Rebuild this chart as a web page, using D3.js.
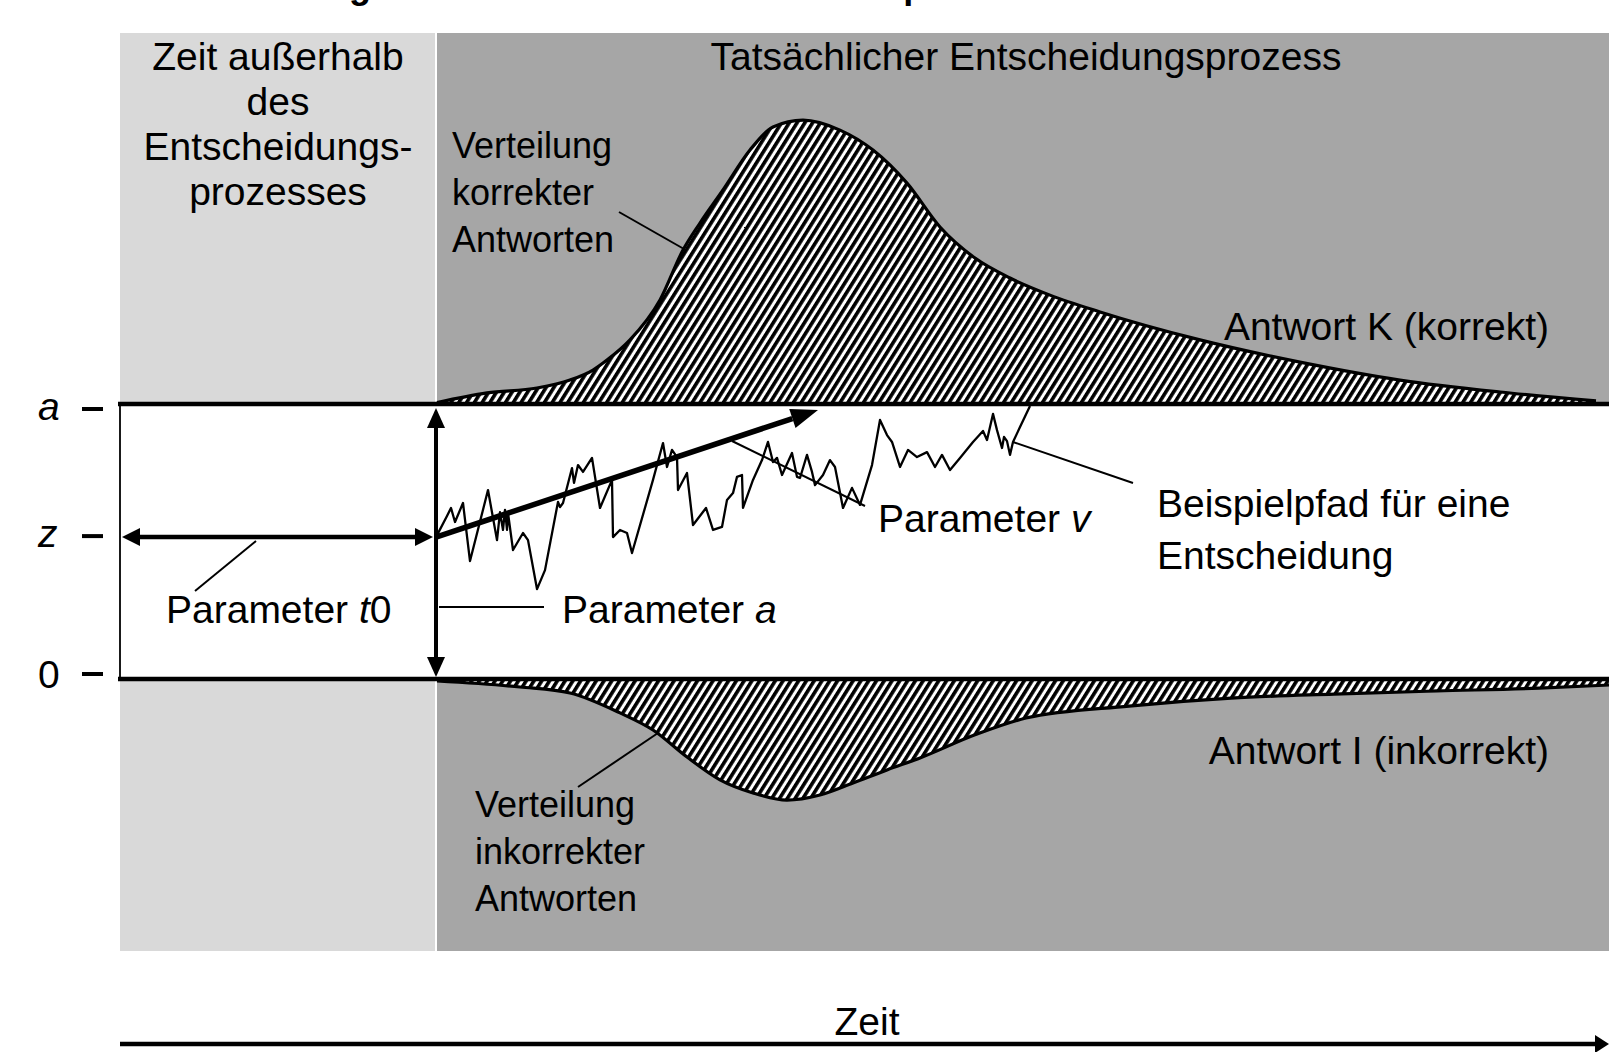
<!DOCTYPE html>
<html><head><meta charset="utf-8">
<script src="https://cdn.jsdelivr.net/npm/d3@7"></script>
<style>
html,body{margin:0;padding:0;background:#fff;overflow:hidden}
svg{display:block}
text{font-family:"Liberation Sans",Arial,sans-serif;fill:#000}
</style></head><body>
<svg id="chart" width="1609" height="1052"></svg>
<script>
// ---------------- data ----------------
const titleText = "Darstellung des Diffusionsmodells im Beispiel";
const timeDomain = [0, 1500];            // ms
const t0 = 316;                          // non-decision time (ms)
const boundaryNames = ["0", "z", "a"];
const boundaryValues = [0, 0.516, 1];    // evidence (relative to a)
const driftTimes = [316, 698];
const driftEvidence = [0.516, 0.978];

const correctTimes = [317,367,417,450,473,487,510,540,563,580,603,630,653,683,720,753,787,820,855,890,930,980,1080,1180,1280,1380,1476];
const correctDensity = [0.005,0.039,0.056,0.084,0.119,0.154,0.225,0.365,0.540,0.635,0.751,0.891,0.972,0.996,0.961,0.891,0.775,0.621,0.512,0.442,0.382,0.323,0.225,0.147,0.084,0.042,0.011];

const errorTimes = [317,400,450,500,533,567,600,633,667,700,733,767,800,855,906,1009,1111,1214,1317,1419,1489];
const errorDensity = [0.007,0.028,0.049,0.119,0.179,0.274,0.354,0.400,0.425,0.407,0.365,0.319,0.277,0.196,0.137,0.095,0.067,0.053,0.042,0.032,0.021];

const walkTimes = [316,327,331,335,343,350,368,377,380,383,385,387,388,393,403,408,417,425,438,440,443,452,454,458,463,472,480,492,493,500,507,512,533,543,547,552,557,558,567,573,586,593,602,607,613,617,622,623,633,642,648,653,657,662,672,677,680,687,692,695,703,710,715,723,732,740,752,760,767,772,780,788,797,807,815,822,830,840,853,863,867,873,877,882,884,887,890,893,900,910];
const walkEvidence = [0.516,0.593,0.622,0.571,0.640,0.429,0.687,0.505,0.607,0.542,0.615,0.542,0.604,0.469,0.531,0.505,0.327,0.396,0.644,0.625,0.640,0.767,0.713,0.778,0.753,0.804,0.622,0.724,0.516,0.542,0.531,0.458,0.724,0.858,0.771,0.833,0.807,0.687,0.749,0.560,0.622,0.542,0.553,0.651,0.676,0.735,0.742,0.622,0.724,0.796,0.862,0.789,0.804,0.742,0.822,0.735,0.731,0.815,0.753,0.705,0.742,0.796,0.771,0.622,0.695,0.633,0.778,0.942,0.887,0.862,0.771,0.833,0.807,0.825,0.771,0.815,0.760,0.804,0.862,0.902,0.869,0.964,0.905,0.840,0.880,0.865,0.815,0.862,0.916,0.993];

// ---------------- drawing ----------------
const W = 1609, H = 1052;
const svg = d3.select("#chart");
const x = d3.scaleLinear().domain(timeDomain).range([120, 1620]);
const y = d3.scaleLinear().domain([0, 1]).range([679, 404]);
const dens = d3.scaleLinear().domain([0, 1]).range([0, 285]);

const defs = svg.append("defs");
const pat = defs.append("pattern").attr("id", "hatch")
  .attr("patternUnits", "userSpaceOnUse").attr("width", 6.6).attr("height", 10)
  .attr("patternTransform", "rotate(32)");
pat.append("rect").attr("width", 6.6).attr("height", 10).attr("fill", "#fff");
pat.append("rect").attr("width", 3.6).attr("height", 10).attr("fill", "#000");

// title (cut off at top edge as in the original)
svg.append("text").attr("x", 173).attr("y", -2).attr("font-size", 36)
  .attr("font-weight", "bold").text(titleText);

const panelTop = 33, panelBottom = 951;
svg.append("rect").attr("x", x(0)).attr("y", panelTop)
  .attr("width", x(t0) - 1 - x(0)).attr("height", panelBottom - panelTop).attr("fill", "#d9d9d9");
svg.append("rect").attr("x", x(t0) + 1).attr("y", panelTop)
  .attr("width", W - x(t0)).attr("height", panelBottom - panelTop).attr("fill", "#a6a6a6");
svg.append("rect").attr("x", x(0)).attr("y", y(1))
  .attr("width", W - x(0)).attr("height", y(0) - y(1)).attr("fill", "#fff");

// densities
const corr = correctTimes.map((t, i) => [t, correctDensity[i]]);
const err = errorTimes.map((t, i) => [t, errorDensity[i]]);
const curve = d3.curveMonotoneX;
svg.append("path").datum(corr)
  .attr("d", d3.area().curve(curve).x(d => x(d[0])).y0(y(1)).y1(d => y(1) - dens(d[1])))
  .attr("fill", "url(#hatch)");
svg.append("path").datum(corr)
  .attr("d", d3.line().curve(curve).x(d => x(d[0])).y(d => y(1) - dens(d[1])))
  .attr("fill", "none").attr("stroke", "#000").attr("stroke-width", 3.2);
svg.append("path").datum(err)
  .attr("d", d3.area().curve(curve).x(d => x(d[0])).y0(y(0)).y1(d => y(0) + dens(d[1])))
  .attr("fill", "url(#hatch)");
svg.append("path").datum(err)
  .attr("d", d3.line().curve(curve).x(d => x(d[0])).y(d => y(0) + dens(d[1])))
  .attr("fill", "none").attr("stroke", "#000").attr("stroke-width", 3.2);

// boundaries
[1, 0].forEach(v => svg.append("line").attr("x1", x(0) - 2).attr("x2", W)
  .attr("y1", y(v)).attr("y2", y(v)).attr("stroke", "#000").attr("stroke-width", 4.6));
svg.append("line").attr("x1", x(0)).attr("x2", x(0)).attr("y1", y(1)).attr("y2", y(0))
  .attr("stroke", "#000").attr("stroke-width", 1.8);

// boundary labels with dash ticks
const tickNudge = [-5, -1, 5];
boundaryNames.forEach((n, i) => {
  const cy = y(boundaryValues[i]) + tickNudge[i];
  svg.append("text").attr("x", 38).attr("y", cy).attr("dy", n === "0" ? 13.5 : 10.5)
    .attr("font-size", 39).attr("font-style", n === "0" ? "normal" : "italic").text(n);
  svg.append("line").attr("x1", 82).attr("x2", 103).attr("y1", cy).attr("y2", cy)
    .attr("stroke", "#000").attr("stroke-width", 4);
});

function head(tx, ty, ang, L, Wd) {
  const ux = Math.cos(ang), uy = Math.sin(ang);
  const bx = tx - ux * L, by = ty - uy * L;
  svg.append("polygon").attr("points",
    [[tx, ty], [bx - uy * Wd, by + ux * Wd], [bx + uy * Wd, by - ux * Wd]].map(p => p.join(",")).join(" "))
    .attr("fill", "#000");
  return [bx, by];
}

// random walk
const walk = walkTimes.map((t, i) => [t, walkEvidence[i]]);
svg.append("path").datum(walk)
  .attr("d", d3.line().x(d => x(d[0])).y(d => y(d[1])))
  .attr("fill", "none").attr("stroke", "#000").attr("stroke-width", 2.3).attr("stroke-linejoin", "round");

// t0 arrow
const zy = y(boundaryValues[1]);
{
  const l = head(x(0) + 2, zy, Math.PI, 18, 9);
  const r = head(x(t0) - 3, zy, 0, 18, 9);
  svg.append("line").attr("x1", l[0]).attr("x2", r[0]).attr("y1", zy).attr("y2", zy)
    .attr("stroke", "#000").attr("stroke-width", 4.5);
}
// a arrow
{
  const ax = x(t0);
  const tp = head(ax, y(1) + 4, -Math.PI / 2, 20, 9);
  const bt = head(ax, y(0) - 2, Math.PI / 2, 20, 9);
  svg.append("line").attr("x1", ax).attr("x2", ax).attr("y1", tp[1]).attr("y2", bt[1])
    .attr("stroke", "#000").attr("stroke-width", 4);
}
// drift arrow
{
  const sx = x(driftTimes[0]), sy = y(driftEvidence[0]);
  const ex = x(driftTimes[1]), ey = y(driftEvidence[1]);
  const b = head(ex, ey, Math.atan2(ey - sy, ex - sx), 27, 10);
  svg.append("line").attr("x1", sx).attr("y1", sy).attr("x2", b[0]).attr("y2", b[1])
    .attr("stroke", "#000").attr("stroke-width", 5.5);
}

// leader lines
const leaders = [
  [619, 212, 684, 249], [732, 441, 865, 506], [1013, 442, 1133, 483],
  [195, 591, 256, 541], [439, 607, 544, 607], [578, 787, 658, 733]
];
leaders.forEach(l => svg.append("line").attr("x1", l[0]).attr("y1", l[1]).attr("x2", l[2]).attr("y2", l[3])
  .attr("stroke", "#000").attr("stroke-width", 2));

// labels
function label(xp, yp, lines, anchor, lh, fs) {
  const t = svg.append("text").attr("x", xp).attr("y", yp).attr("font-size", fs || 39)
    .attr("text-anchor", anchor || "start");
  lines.forEach((ln, i) => {
    const ts = t.append("tspan").attr("x", xp).attr("dy", i === 0 ? 0 : lh);
    if (Array.isArray(ln)) {
      ln.forEach(p => ts.append("tspan").attr("font-style", p.it ? "italic" : "normal").text(p.t));
    } else ts.text(ln);
  });
}
label(278, 69.5, ["Zeit außerhalb", "des", "Entscheidungs-", "prozesses"], "middle", 45.2);
label(1026, 69.5, ["Tatsächlicher Entscheidungsprozess"], "middle");
label(452, 158, ["Verteilung", "korrekter", "Antworten"], "start", 47, 36);
label(1549, 340, ["Antwort K (korrekt)"], "end");
label(878, 532, [[{t: "Parameter "}, {t: "v", it: true}]], "start");
label(1157, 517, ["Beispielpfad für eine", "Entscheidung"], "start", 52);
label(166, 623, [[{t: "Parameter "}, {t: "t", it: true}, {t: "0"}]], "start");
label(562, 623, [[{t: "Parameter "}, {t: "a", it: true}]], "start");
label(1549, 764, ["Antwort I (inkorrekt)"], "end");
label(475, 816.5, ["Verteilung", "inkorrekter", "Antworten"], "start", 47.2, 36);
label(867, 1035, ["Zeit"], "middle");

// time axis
{
  const ay = 1044;
  const b = head(W, ay, 0, 14, 9);
  svg.append("line").attr("x1", x(0)).attr("x2", b[0]).attr("y1", ay).attr("y2", ay)
    .attr("stroke", "#000").attr("stroke-width", 4.5);
}
</script>
</body></html>
